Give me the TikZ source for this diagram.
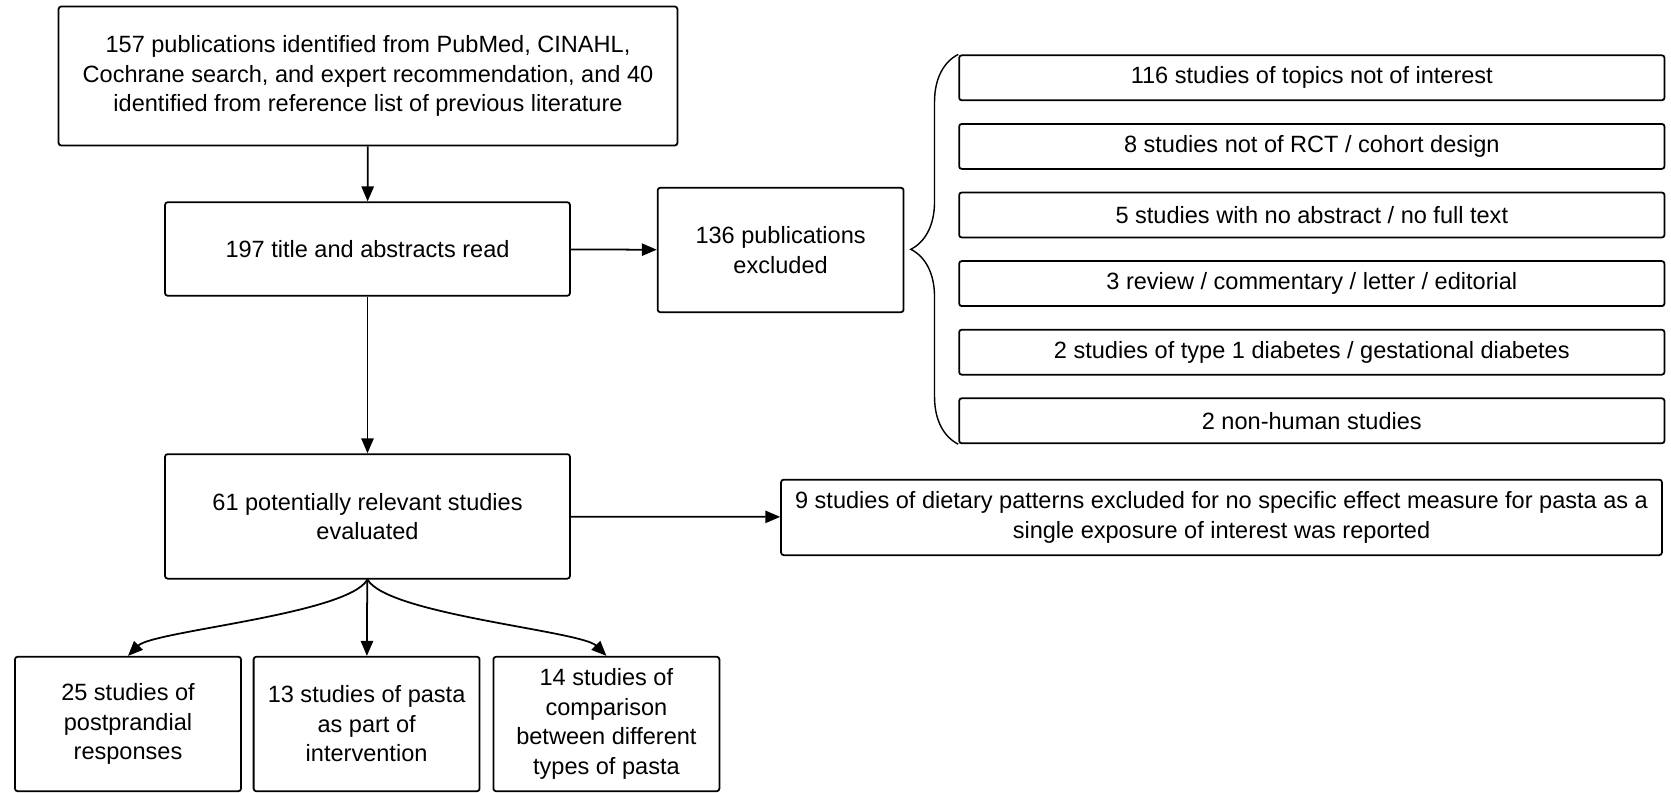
\documentclass[tikz,border=0pt]{standalone}
\usepackage{fontspec}
\setmainfont{Liberation Sans}
\usetikzlibrary{arrows.meta,decorations.pathreplacing}
\tikzset{
  flowbox/.style={draw,rounded corners=1.5pt,line width=1pt,align=center,inner sep=2pt,font=\fontsize{13.4}{16.8}\selectfont},
  flowarrow/.style={draw,line width=1pt,-{Triangle[length=8.5pt,width=7pt]}},
}

\begin{document}
\begin{tikzpicture}[x=0.02cm,y=-0.02cm]
  \useasboundingbox (0,0) rectangle (1671,793);
  \node[flowbox,minimum width=12.38cm,minimum height=2.78cm] (found) at (368,76)
    {157 publications identified from PubMed, CINAHL,\\Cochrane search, and expert recommendation, and 40\\identified from reference list of previous literature};
  \node[flowbox,minimum width=8.1cm,minimum height=1.87cm] (read) at (367.5,249) {197 title and abstracts read};
  \node[flowbox,minimum width=4.92cm,minimum height=2.49cm] (excl) at (780.6,250) {136 publications\\excluded};
  \node[flowbox,minimum width=8.1cm,minimum height=2.49cm] (eval) at (367.5,516.4) {61 potentially relevant studies\\evaluated};
  \node[flowbox,minimum width=17.62cm,minimum height=1.51cm] (diet) at (1221.5,517.4)
    {9 studies of dietary patterns excluded for no specific effect measure for pasta as a\\single exposure of interest was reported};
  % reasons for exclusion
  \foreach\t [count=\i] in {{116 studies of topics not of interest},{8 studies not of RCT / cohort design},
      {5 studies with no abstract / no full text},{3 review / commentary / letter / editorial},
      {2 studies of type 1 diabetes / gestational diabetes},{2 non-human studies}}
    \node[flowbox,minimum width=14.11cm,minimum height=0.9cm] (ex\i) at (1311.8,{77.8+68.6*(\i-1)}) {\t};
  \foreach\n/\x/\t in {post/128/{25 studies of\\postprandial\\responses},interv/366.6/{13 studies of pasta\\as part of\\intervention},
      compare/606.4/{14 studies of\\comparison\\between different\\types of pasta}}
    \node[flowbox,minimum width=4.52cm,minimum height=2.69cm] (\n) at (\x,724) {\t};
  \draw[line width=0.8pt,decorate,decoration={brace,amplitude=27pt}] (ex6.south west) -- (ex1.north west);
  \scope[every path/.append style={flowarrow}]
  \path (found) -- (read);  \path (read) -- (excl);  \path (read) -- (eval);
  \path (eval) -- (diet);   \path (eval) -- (interv);
  \path (eval.south) .. controls +(-20,35) and +(25,-25) .. (post.north);
  \path (eval.south) .. controls +(20,35) and +(-25,-25) .. (compare.north);
  \endscope
\end{tikzpicture}
\end{document}
